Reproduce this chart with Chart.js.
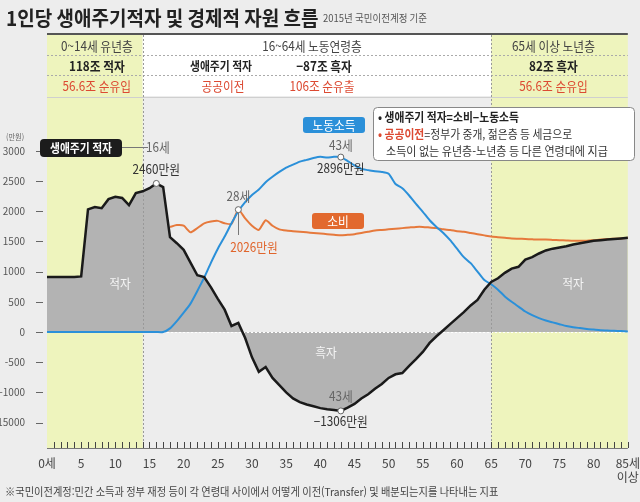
<!DOCTYPE html>
<html lang="ko">
<head>
<meta charset="utf-8">
<script src="https://cdn.jsdelivr.net/npm/chart.js@4.4.1/dist/chart.umd.min.js"></script>
<style>
  html, body { margin: 0; padding: 0; background: #ededed; }
  #wrap { width: 640px; height: 502px; position: relative; }
</style>
</head>
<body>
<div id="wrap"><canvas id="chart"></canvas></div>
<script>
// 연령 (0세 ~ 85세 이상)
const ages = [0,1,2,3,4,5,6,7,8,9,10,11,12,13,14,15,16,17,18,19,20,21,22,23,24,25,26,27,28,29,
  30,31,32,33,34,35,36,37,38,39,40,41,42,43,44,45,46,47,48,49,50,51,52,53,54,55,56,57,58,59,
  60,61,62,63,64,65,66,67,68,69,70,71,72,73,74,75,76,77,78,79,80,81,82,83,84,85];

// 생애주기 적자 (만원)
const deficit = [910,910,910,910,910,920,2030,2070,2050,2200,2240,2220,2100,2300,2330,2380,2460,2400,
  1570,1470,1360,1150,940,910,740,550,370,100,150,-100,
  -420,-660,-580,-760,-880,-1000,-1100,-1160,-1200,-1230,-1260,-1280,-1290,-1306,
  -1250,-1190,-1100,-1030,-940,-860,-760,-700,-680,-560,-450,-330,-180,-70,
  30,130,230,330,440,530,700,830,890,980,1050,1080,1200,1240,
  1300,1350,1380,1400,1420,1450,1470,1490,1510,1520,1530,1540,1550,1560];

// 노동소득 (만원)
const laborIncome = [0,0,0,0,0,0,0,0,0,0,0,0,0,0,0,0,0,0,
  60,180,320,470,680,900,1150,1380,1580,1800,2000,2150,
  2270,2360,2480,2570,2650,2720,2770,2820,2850,2880,2900,2890,2900,2896,
  2830,2760,2700,2680,2660,2650,2620,2450,2380,2260,2120,1990,1850,1740,
  1640,1520,1380,1240,1140,1000,860,790,700,590,500,420,340,280,
  230,190,160,130,100,80,65,50,40,30,25,20,15,10];

// 소비 (만원)
const consumption = [null,null,null,null,null,null,null,null,null,null,null,null,null,null,null,null,null,null,
  1740,1770,1760,1650,1720,1800,1830,1840,1800,1790,2026,1880,
  1760,1690,1850,1760,1700,1680,1670,1660,1650,1640,1630,1620,1610,1600,
  1610,1620,1640,1660,1680,1690,1700,1710,1720,1730,1740,1740,1730,1720,
  1700,1690,1670,1660,1640,1620,1600,1580,1570,1560,1550,1545,1540,1535,
  1530,1530,1525,1520,1515,1510,1510,1510,1520,1530,1540,1545,1550,1560];

const yTicks = [3000, 2500, 2000, 1500, 1000, 500, 0, -500, -1000, -1500];
const yTickLabels = ['3000', '2500', '2000', '1500', '1000', '500', '0', '-500', '-1000', '-15000'];

const FONT = '"Noto Sans CJK KR", "Noto Sans", sans-serif';
const RED = '#dc4a32';
const ORANGE = '#e6793c';
const BLUE = '#2b90d9';

// 가로로 살짝 눌린 글자 그리기
function txt(ctx, s, x, y, size, color, opt) {
  opt = opt || {};
  ctx.save();
  ctx.font = (opt.weight || 'normal') + ' ' + size + 'px ' + FONT;
  ctx.fillStyle = color;
  ctx.textAlign = opt.align || 'center';
  ctx.textBaseline = 'middle';
  ctx.translate(x, y);
  ctx.scale(opt.sx || 0.9, 1);
  ctx.fillText(s, 0, 0);
  const w = ctx.measureText(s).width * (opt.sx || 0.9);
  ctx.restore();
  return w;
}

function roundBox(ctx, x, y, w, h, r, fill, stroke) {
  ctx.beginPath();
  ctx.roundRect(x, y, w, h, r);
  if (fill) { ctx.fillStyle = fill; ctx.fill(); }
  if (stroke) { ctx.strokeStyle = stroke; ctx.lineWidth = 1; ctx.stroke(); }
}

function dot(ctx, x, y) {
  ctx.beginPath();
  ctx.arc(x, y, 3, 0, Math.PI * 2);
  ctx.fillStyle = '#fff';
  ctx.fill();
  ctx.strokeStyle = '#666';
  ctx.lineWidth = 1;
  ctx.stroke();
}

const TABLE_TOP = 34;

const decorPlugin = {
  id: 'decor',
  beforeDraw(chart) {
    const { ctx, chartArea: a, scales: { x } } = chart;
    const x14 = x.getPixelForValue(14), x65 = x.getPixelForValue(65);
    ctx.save();
    ctx.fillStyle = '#ededed';
    ctx.fillRect(0, 0, chart.width, chart.height);

    // 유년층 / 노년층 구간
    ctx.fillStyle = '#eef4bd';
    ctx.fillRect(a.left, TABLE_TOP, x14 - a.left, a.bottom - TABLE_TOP);
    ctx.fillRect(x65, TABLE_TOP, a.right - x65, a.bottom - TABLE_TOP);
    ctx.fillStyle = '#ffffff';
    ctx.fillRect(x14, TABLE_TOP, x65 - x14, 62);

    // 표 선
    ctx.strokeStyle = '#555';
    ctx.lineWidth = 2;
    ctx.beginPath(); ctx.moveTo(a.left, TABLE_TOP); ctx.lineTo(a.right, TABLE_TOP); ctx.stroke();
    ctx.strokeStyle = '#aaa';
    ctx.lineWidth = 1;
    ctx.setLineDash([2, 2]);
    [55.5, 75.5].forEach(yy => {
      ctx.beginPath(); ctx.moveTo(a.left, yy); ctx.lineTo(a.right, yy); ctx.stroke();
    });
    ctx.setLineDash([]);
    ctx.strokeStyle = '#cfcfcf';
    ctx.beginPath(); ctx.moveTo(a.left, 97.5); ctx.lineTo(a.right, 97.5); ctx.stroke();
    ctx.restore();

    // 제목
    txt(ctx, '1인당 생애주기적자 및 경제적 자원 흐름', 6, 18, 20, '#222', { align: 'left', weight: 'bold', sx: 0.95 });
    txt(ctx, '2015년 국민이전계정 기준', 323, 18, 10, '#555', { align: 'left', sx: 0.95 });

    // 표 내용
    const cl = (a.left + x14) / 2 + 2, cr = (x65 + a.right) / 2 - 6;
    txt(ctx, '0~14세 유년층', cl, 46, 13, '#444');
    txt(ctx, '16~64세 노동연령층', 312, 46, 13, '#444');
    txt(ctx, '65세 이상 노년층', cr, 46, 13, '#444');
    txt(ctx, '118조 적자', cl, 66, 13, '#222', { weight: 'bold' });
    txt(ctx, '생애주기 적자', 221, 66, 12, '#222', { weight: 'bold' });
    txt(ctx, '−87조 흑자', 324, 66, 13, '#222', { weight: 'bold' });
    txt(ctx, '82조 흑자', cr, 66, 13, '#222', { weight: 'bold' });
    txt(ctx, '56.6조 순유입', cl, 86, 13, RED);
    txt(ctx, '공공이전', 223, 86, 13, RED);
    txt(ctx, '106조 순유출', 322, 86, 13, RED);
    txt(ctx, '56.6조 순유입', cr, 86, 13, RED);

    txt(ctx, '(만원)', 6, 137, 8, '#666', { align: 'left' });
    txt(ctx, '※국민이전계정:민간 소득과 정부 재정 등이 각 연령대 사이에서 어떻게 이전(Transfer) 및 배분되는지를 나타내는 지표',
      5, 492, 11, '#444', { align: 'left', sx: 0.93 });
  },
  beforeDatasetsDraw(chart) {
    const { ctx, chartArea: a, scales: { x, y } } = chart;
    ctx.save();
    ctx.lineWidth = 1;
    // 0 기준선
    ctx.strokeStyle = '#ffffff';
    ctx.setLineDash([2, 2]);
    const y0 = Math.round(y.getPixelForValue(0)) + 0.5;
    ctx.beginPath(); ctx.moveTo(a.left, y0); ctx.lineTo(a.right, y0); ctx.stroke();
    // 구간 경계
    ctx.strokeStyle = '#999';
    [14, 65].forEach(v => {
      const xx = Math.round(x.getPixelForValue(v)) + 0.5;
      ctx.beginPath(); ctx.moveTo(xx, TABLE_TOP + 1); ctx.lineTo(xx, a.bottom); ctx.stroke();
    });
    ctx.restore();
  },
  afterDatasetsDraw(chart) {
    const { ctx, chartArea: a, scales: { x, y } } = chart;
    const px = v => x.getPixelForValue(v);
    const py = v => y.getPixelForValue(v);

    ctx.save();
    ctx.lineWidth = 1;
    ctx.setLineDash([]);
    // x축 기준선과 1세 단위 눈금
    ctx.strokeStyle = '#777';
    ctx.beginPath(); ctx.moveTo(a.left, Math.round(a.bottom) + 0.5); ctx.lineTo(a.right, Math.round(a.bottom) + 0.5); ctx.stroke();
    ctx.strokeStyle = '#444';
    ages.forEach(v => {
      if (v === 0) return;
      const xx = Math.round(px(v)) + 0.5;
      ctx.beginPath(); ctx.moveTo(xx, Math.round(a.bottom) - 6); ctx.lineTo(xx, Math.round(a.bottom)); ctx.stroke();
    });
    // y축 눈금 대시
    ctx.strokeStyle = '#666';
    yTicks.forEach(v => {
      const yy = Math.round(py(v)) + 0.5;
      ctx.beginPath(); ctx.moveTo(36, yy); ctx.lineTo(43, yy); ctx.stroke();
    });
    ctx.restore();

    // 영역 이름
    txt(ctx, '적자', 120, 283, 13, '#f4f4f4');
    txt(ctx, '흑자', 326, 352, 13, '#f4f4f4');
    txt(ctx, '적자', 573, 283, 13, '#f4f4f4');

    // 16세 최고점
    const p16 = [px(16), py(2460)];
    ctx.save();
    ctx.strokeStyle = '#777';
    ctx.lineWidth = 1;
    ctx.beginPath(); ctx.moveTo(122, 147.5); ctx.lineTo(148, 147.5); ctx.stroke();
    ctx.restore();
    roundBox(ctx, 40, 139, 82, 18, 4, '#1c1c1c');
    txt(ctx, '생애주기 적자', 81, 148, 12, '#ffffff', { weight: 'bold' });
    txt(ctx, '16세', 158, 147, 13, '#666');
    txt(ctx, '2460만원', p16[0], 169, 13, '#333');
    dot(ctx, p16[0], p16[1]);

    // 28세 소비
    const p28 = [px(28), py(2026)];
    ctx.save();
    ctx.strokeStyle = '#777';
    ctx.lineWidth = 1;
    ctx.beginPath(); ctx.moveTo(Math.round(p28[0]) + 0.5, p28[1] + 3); ctx.lineTo(Math.round(p28[0]) + 0.5, 235); ctx.stroke();
    ctx.restore();
    txt(ctx, '28세', p28[0], 196, 13, '#666');
    txt(ctx, '2026만원', p28[0] - 8, 247, 13, '#e0652c', { align: 'left' });
    dot(ctx, p28[0], p28[1]);

    // 43세 노동소득
    const p43 = [px(43), py(2896)];
    roundBox(ctx, 303, 117, 62, 16, 3, BLUE);
    txt(ctx, '노동소득', 334, 125, 13, '#ffffff');
    txt(ctx, '43세', p43[0], 145, 13, '#666');
    txt(ctx, '2896만원', p43[0], 168, 13, '#333');
    dot(ctx, p43[0], p43[1]);

    // 소비 이름표
    roundBox(ctx, 312, 213, 52, 16, 3, '#e2692e');
    txt(ctx, '소비', 338, 221, 13, '#ffffff');

    // 43세 흑자 최저점
    const pLow = [px(43), py(-1306)];
    txt(ctx, '43세', pLow[0], 396, 13, '#666');
    txt(ctx, '−1306만원', pLow[0], 421, 13, '#333');
    dot(ctx, pLow[0], pLow[1]);

    // 설명 상자
    roundBox(ctx, 373.5, 107.5, 261, 53, 4, '#ffffff', '#888');
    txt(ctx, '• 생애주기 적자=소비−노동소득', 378, 117, 12, '#222', { align: 'left', weight: 'bold' });
    const wb = txt(ctx, '• ', 378, 134, 12, RED, { align: 'left', weight: 'bold' });
    const wp = txt(ctx, '공공이전', 378 + wb, 134, 12, RED, { align: 'left', weight: 'bold' });
    txt(ctx, '=정부가 중개, 젊은층 등 세금으로', 378 + wb + wp, 134, 12, '#333', { align: 'left' });
    txt(ctx, '소득이 없는 유년층-노년층 등 다른 연령대에 지급', 386, 151, 12, '#333', { align: 'left', sx: 0.92 });
  }
};

const ctx = document.getElementById('chart').getContext('2d');
new Chart(ctx, {
  type: 'line',
  data: {
    labels: ages,
    datasets: [
      {
        label: '생애주기 적자',
        data: deficit,
        borderColor: '#1a1a1a',
        borderWidth: 2.5,
        backgroundColor: '#b3b3b3',
        fill: 'origin',
        pointRadius: 0,
        tension: 0
      },
      {
        label: '노동소득',
        data: laborIncome,
        borderColor: BLUE,
        borderWidth: 2,
        fill: false,
        pointRadius: 0,
        tension: 0.2
      },
      {
        label: '소비',
        data: consumption,
        borderColor: ORANGE,
        borderWidth: 2,
        fill: false,
        pointRadius: 0,
        tension: 0.2
      }
    ]
  },
  options: {
    responsive: true,
    maintainAspectRatio: false,
    animation: false,
    layout: { padding: { top: 120, right: 12, left: 0, bottom: 0 } },
    plugins: {
      legend: { display: false },
      tooltip: { enabled: false },
      filler: { drawTime: 'beforeDatasetsDraw' }
    },
    scales: {
      x: {
        type: 'category',
        offset: false,
        afterFit(s) { s.height = 54; },
        grid: { display: false },
        border: { display: false },
        ticks: {
          autoSkip: false,
          maxRotation: 0,
          padding: 0,
          color: '#444',
          font: { family: FONT, size: 12 },
          callback(value, i) {
            const age = ages[i];
            if (age === 0) return '0세';
            if (age === 85) return ['85세', '이상'];
            return age % 5 === 0 ? String(age) : '';
          }
        }
      },
      y: {
        min: -1920,
        max: 3510,
        afterFit(s) { s.width = 47; },
        afterBuildTicks(s) { s.ticks = yTicks.map(v => ({ value: v })); },
        grid: { display: false },
        border: { display: false },
        ticks: {
          padding: 14,
          color: '#555',
          font: { family: FONT, size: 10 },
          callback(value) {
            const i = yTicks.indexOf(value);
            return i >= 0 ? yTickLabels[i] : '';
          }
        }
      }
    }
  },
  plugins: [decorPlugin]
});
</script>
</body>
</html>
